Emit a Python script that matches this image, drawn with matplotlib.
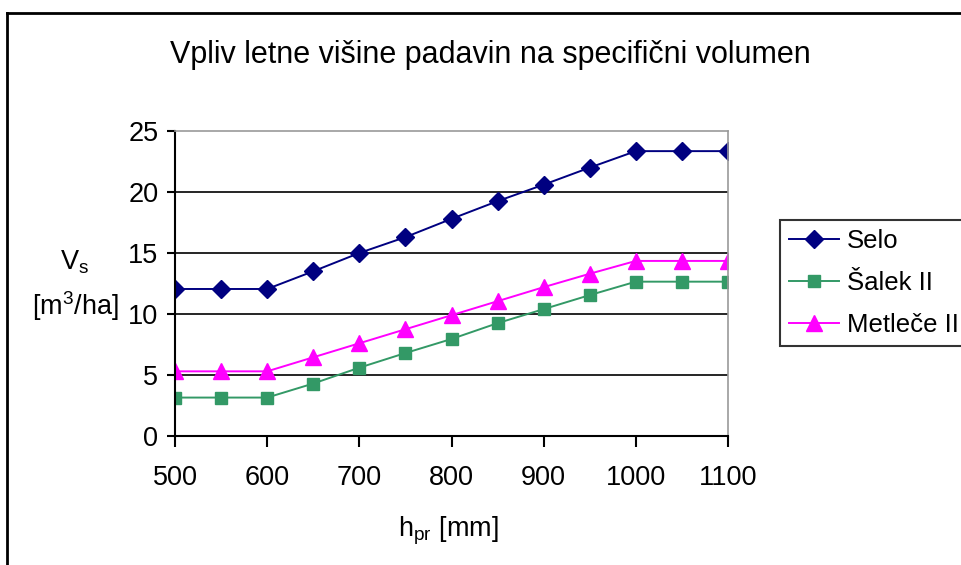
import numpy as np
import matplotlib
matplotlib.use('Agg')
import matplotlib.pyplot as plt
from matplotlib.lines import Line2D

plt.rcParams['font.family'] = ['Liberation Sans', 'DejaVu Sans']
plt.rcParams['mathtext.default'] = 'regular'

# data
h_pr = [500, 550, 600, 650, 700, 750, 800, 850, 900, 950, 1000, 1050, 1100]
selo = [12.05, 12.05, 12.05, 13.5, 15.0, 16.3, 17.8, 19.25, 20.6, 22.0, 23.35, 23.35, 23.35]
salek = [3.15, 3.15, 3.15, 4.3, 5.6, 6.8, 7.95, 9.25, 10.4, 11.55, 12.65, 12.65, 12.65]
metlece = [5.3, 5.3, 5.3, 6.45, 7.6, 8.75, 9.9, 11.05, 12.2, 13.3, 14.35, 14.35, 14.35]
names = ['Selo', 'Šalek II', 'Metleče II']
xticks = [500, 600, 700, 800, 900, 1000, 1100]
yticks = [0, 5, 10, 15, 20, 25]

W, H = 962, 565
fig = plt.figure(figsize=(W / 100, H / 100), dpi=100)
ax = fig.add_axes([175 / W, 1 - 436 / H, 553 / W, 305 / H])

ax.plot(h_pr, selo, color='#000080', marker='D', markersize=9.5, lw=1.4, label=names[0])
ax.plot(h_pr, salek, color='#339966', marker='s', markersize=8.5, lw=1.4, label=names[1])
ax.plot(h_pr, metlece, color='#FF00FF', marker='^', markersize=11, lw=1.4, label=names[2])

ax.set_xlim(500, 1100)
ax.set_ylim(0, 25)
ax.set_xticks(xticks)
ax.set_yticks(yticks)
for y in yticks[1:-1]:
    ax.axhline(y, color='black', lw=1.2, zorder=0)
for s in ['left', 'bottom']:
    ax.spines[s].set_color('black')
    ax.spines[s].set_linewidth(1.5)
for s in ['top', 'right']:
    ax.spines[s].set_color('#999999')
    ax.spines[s].set_linewidth(1.2)
ax.tick_params(axis='x', length=8, width=1.5, labelsize=19.5, pad=13, direction='out')
ax.tick_params(axis='y', length=6, width=1.5, labelsize=19.5, pad=6, direction='out')
for x in ax.get_xticklines() + ax.get_yticklines():
    x.set_clip_on(False)

fig.text(490 / W, 1 - 55 / H, 'Vpliv letne višine padavin na specifični volumen',
         ha='center', va='center', fontsize=22)
fig.text(75 / W, 1 - 286 / H, 'V$_s$\n[m$^3$/ha]', ha='center', va='center',
         fontsize=19.5, linespacing=1.5)
fig.text(448 / W, 1 - 531 / H, 'h$_{pr}$ [mm]', ha='center', va='center', fontsize=19.5)

leg = ax.legend(loc='upper left', bbox_to_anchor=(780 / W, 1 - 220 / H),
                bbox_transform=fig.transFigure, fontsize=18.5, frameon=True,
                fancybox=False, edgecolor='black', borderaxespad=0,
                handlelength=1.95, handletextpad=0.3, borderpad=0.35,
                labelspacing=0.7)
leg.get_frame().set_linewidth(1.5)

# outer chart frame
fig.add_artist(Line2D([7 / W, 7 / W], [0, 1 - 13 / H], color='black', lw=2,
                      transform=fig.transFigure))
fig.add_artist(Line2D([7 / W, 1], [1 - 13 / H, 1 - 13 / H], color='black', lw=2,
                      transform=fig.transFigure))

fig.savefig('out.png', dpi=100)
